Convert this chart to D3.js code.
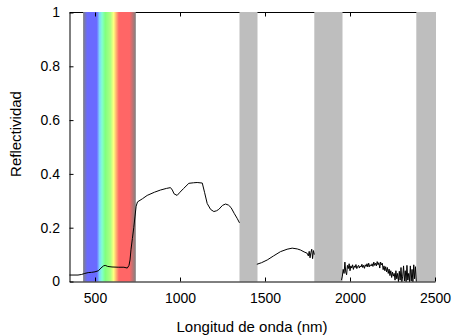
<!DOCTYPE html>
<html>
<head>
<meta charset="utf-8">
<script src="https://cdn.jsdelivr.net/npm/d3@7"></script>
<style>
  body { margin: 0; background: #fff; }
  svg text { font-family: "Liberation Sans", Arial, sans-serif; fill: #000; }
</style>
</head>
<body>
<svg width="455" height="335"></svg>
<script>
// spectrum, segment 1 (350 - 1350 nm)
var seg1 = [
	[350, .024], [400, .024], [420, .026], [440, .030], [460, .033], [480, .034],
	[500, .036], [520, .040], [535, .050], [550, .058], [560, .060], [575, .056],
	[600, .054], [640, .053], [670, .053], [690, .050], [700, .060], [706, .080],
	[712, .120], [720, .160], [728, .200], [735, .240], [742, .280], [750, .296],
	[780, .308], [807, .320], [850, .332], [885, .340], [920, .346], [944, .349],
	[955, .340], [965, .326], [983, .320], [1000, .332], [1020, .345], [1052, .365],
	[1080, .367], [1101, .368], [1131, .366], [1145, .330], [1160, .290], [1180, .268],
	[1199, .260], [1215, .263], [1228, .268], [1250, .283], [1268, .288], [1285, .284],
	[1300, .275], [1320, .252], [1336, .235], [1350, .218]
];

// segment 2 (1450 - 1790 nm)
var seg2 = [
	[1452, .064], [1480, .070], [1513, .080], [1550, .095], [1591, .111], [1630, .120],
	[1660, .124], [1690, .121], [1709, .117], [1730, .110], [1748, .105], [1755, .095],
	[1760, .112], [1765, .088], [1770, .108], [1775, .120], [1780, .085], [1785, .115],
	[1790, .100]
];

// segment 3 (1950 - 2390 nm), noisy
var seg3 = [
	[1950, .005], [1955, .020], [1960, .045], [1965, .030], [1970, .072], [1975, .035],
	[1980, .025], [1985, .060], [1990, .048], [1995, .066], [2000, .040], [2005, .058],
	[2010, .050], [2015, .062], [2020, .045], [2025, .058], [2030, .052], [2035, .063],
	[2040, .048], [2045, .056], [2050, .060], [2055, .050], [2060, .058], [2065, .054],
	[2070, .064], [2075, .052], [2080, .060], [2085, .049], [2090, .062], [2095, .056],
	[2100, .066], [2105, .054], [2110, .068], [2115, .055], [2120, .062], [2125, .058],
	[2130, .066], [2135, .056], [2140, .072], [2145, .060], [2150, .068], [2155, .058],
	[2160, .074], [2165, .062], [2170, .070], [2175, .050], [2180, .072], [2185, .062],
	[2190, .068], [2195, .044], [2200, .058], [2205, .040], [2210, .055], [2215, .036],
	[2220, .052], [2225, .030], [2230, .046], [2235, .022], [2240, .040], [2245, .015],
	[2250, .035], [2255, .020], [2260, .030], [2265, .005], [2270, .040], [2275, .010],
	[2280, .030], [2285, .000], [2290, .038], [2295, .005], [2300, .052], [2305, .000],
	[2310, .020], [2315, .058], [2320, .002], [2325, .040], [2330, .000], [2335, .060],
	[2340, .005], [2345, .030], [2350, .000], [2355, .058], [2360, .002], [2365, .045],
	[2370, .000], [2375, .062], [2380, .010], [2385, .055], [2390, .000]
];

// shaded bands (nm)
var visibleBand = [430, 740];
var grayBands = [[1350, 1450], [1790, 1950], [2390, 2500]];

var xTicks = [500, 1000, 1500, 2000, 2500];
var yTicks = [0, 0.2, 0.4, 0.6, 0.8, 1];

var svg = d3.select("svg");

var x = d3.scaleLinear().domain([350, 2500]).range([69.5, 435]);
var y = d3.scaleLinear().domain([0, 1]).range([281.5, 12.5]);

// gradient for visible light band
var grad = svg.append("defs").append("linearGradient")
	.attr("id", "vis")
	.attr("x1", "0%").attr("x2", "100%");
var stops = [
	[0, "#808080"], [0.08, "#6a6aff"], [0.26, "#6a6aff"], [0.31, "#7fd4ff"],
	[0.36, "#80ffd0"], [0.42, "#80ff80"], [0.52, "#b0ff80"], [0.58, "#ffff80"],
	[0.63, "#ffb070"], [0.68, "#ff6666"], [0.88, "#ff6666"], [1, "#808080"]
];
grad.selectAll("stop").data(stops).enter().append("stop")
	.attr("offset", function(d){ return d[0]; })
	.attr("stop-color", function(d){ return d[1]; });

// top border goes under the bands
svg.append("line")
	.attr("x1", x(350)).attr("x2", x(2500))
	.attr("y1", y(1)).attr("y2", y(1))
	.attr("stroke", "#000");

svg.append("rect")
	.attr("x", x(visibleBand[0]))
	.attr("width", x(visibleBand[1]) - x(visibleBand[0]))
	.attr("y", y(1) - 0.5)
	.attr("height", y(0) - y(1) + 0.5)
	.attr("fill", "url(#vis)");

svg.selectAll(".gband").data(grayBands).enter().append("rect")
	.attr("class", "gband")
	.attr("x", function(d){ return x(d[0]); })
	.attr("width", function(d){ return x(d[1]) - x(d[0]) + 1; })
	.attr("y", y(1) - 0.5)
	.attr("height", y(0) - y(1) + 0.5)
	.attr("fill", "#bebebe");

// curve
var line = d3.line()
	.x(function(d){ return x(d[0]); })
	.y(function(d){ return y(d[1]); });

svg.selectAll(".seg").data([seg1, seg2, seg3]).enter().append("path")
	.attr("class", "seg")
	.attr("d", line)
	.attr("fill", "none")
	.attr("stroke", "#000")
	.attr("stroke-width", 1);

// axes
var xAxis = d3.axisBottom(x)
	.tickValues(xTicks)
	.tickSizeInner(-4)
	.tickSizeOuter(0)
	.tickPadding(12)
	.tickFormat(d3.format("d"));

svg.append("g")
	.attr("transform", "translate(0," + y(0) + ")")
	.call(xAxis);

var xTop = d3.axisTop(x)
	.tickValues(xTicks.slice(0, 4))
	.tickSizeInner(-4)
	.tickSizeOuter(0)
	.tickFormat("");

svg.append("g")
	.attr("transform", "translate(0," + y(1) + ")")
	.call(xTop)
	.select(".domain").remove();

var yAxis = d3.axisLeft(y)
	.tickValues(yTicks)
	.tickSizeInner(-4)
	.tickSizeOuter(0)
	.tickPadding(9.5)
	.tickFormat(function(d){ return d; });

svg.append("g")
	.attr("transform", "translate(" + x(350) + ",0)")
	.call(yAxis);

svg.selectAll(".tick text")
	.style("font-family", "'Liberation Sans', Arial, sans-serif")
	.style("font-size", "14px");

// axis titles
svg.append("text")
	.attr("x", 252).attr("y", 332)
	.attr("text-anchor", "middle")
	.style("font-size", "15px")
	.text("Longitud de onda (nm)");

svg.append("text")
	.attr("transform", "translate(21,134) rotate(-90)")
	.attr("text-anchor", "middle")
	.style("font-size", "15px")
	.text("Reflectividad");
</script>
</body>
</html>
